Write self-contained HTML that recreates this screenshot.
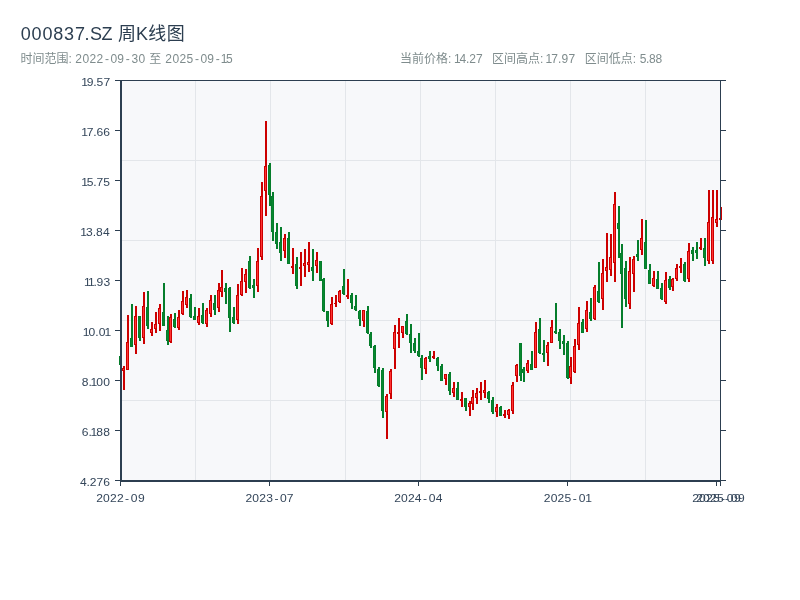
<!DOCTYPE html>
<html lang="zh"><head><meta charset="utf-8"><title>000837.SZ 周K线图</title>
<style>html,body{margin:0;padding:0;background:#fff}body{width:800px;height:600px;overflow:hidden}svg{display:block}text{font-family:"Liberation Sans","Noto Sans CJK SC",sans-serif;white-space:pre}</style></head><body>
<svg width="800" height="600" viewBox="0 0 800 600" shape-rendering="crispEdges">
<rect x="0" y="0" width="800" height="600" fill="#fff"/>
<text x="20.66 31.52 42.38 53.23 64.09 74.95 84.62 89.93 101.4 112.5 118.1 136.03 148.2 166.8" y="40" font-size="18" fill="#2c3e50">000837.SZ 周K线图</text>
<text x="20.5 32.5 44.5 56.5 68.5 71.83 75.36 82.43 89.5 96.57 105 110.42 117.31 125.75 131.48 138.46 145.5 149.3 161.5 165.35 172.39 179.43 186.47 195 200.42 207.31 215.75 220.81 226.09" y="63" font-size="12" fill="#7f8c8d">时间范围: 2022-09-30 至 2025-09-15</text>
<text x="400.1 412.1 424.1 436.1 448.1 451.43 453.97 459.45 466.04 469.3 476.08" y="63" font-size="12" fill="#7f8c8d">当前价格: 14.27</text>
<text x="492.1 504.1 516.1 528.1 540.1 543.43 545.62 551.26 558 561.41 568.4" y="63" font-size="12" fill="#7f8c8d">区间高点: 17.97</text>
<text x="584.7 596.7 608.7 620.7 632.7 636.03 639.68 646.04 649.07 655.53" y="63" font-size="12" fill="#7f8c8d">区间低点: 5.88</text>
<rect x="120" y="80" width="601" height="401" fill="#f7f8fa"/>
<rect x="195" y="81" width="1" height="399" fill="#e3e6ea"/>
<rect x="270" y="81" width="1" height="399" fill="#e3e6ea"/>
<rect x="345" y="81" width="1" height="399" fill="#e3e6ea"/>
<rect x="420" y="81" width="1" height="399" fill="#e3e6ea"/>
<rect x="495" y="81" width="1" height="399" fill="#e3e6ea"/>
<rect x="570" y="81" width="1" height="399" fill="#e3e6ea"/>
<rect x="645" y="81" width="1" height="399" fill="#e3e6ea"/>
<rect x="122" y="160" width="598" height="1" fill="#e3e6ea"/>
<rect x="122" y="240" width="598" height="1" fill="#e3e6ea"/>
<rect x="122" y="320" width="598" height="1" fill="#e3e6ea"/>
<rect x="122" y="400" width="598" height="1" fill="#e3e6ea"/>
<rect x="120" y="356" width="2" height="9" fill="#057d2b"/>
<rect x="119" y="356" width="3" height="9" fill="#057d2b"/>
<rect x="120" y="357" width="1" height="7" fill="#07882f"/>
<rect x="123" y="366" width="2" height="24" fill="#cc0000"/>
<rect x="122" y="368" width="3" height="3" fill="#cc0000"/>
<rect x="123" y="369" width="1" height="1" fill="#ff3333"/>
<rect x="127" y="315" width="2" height="55" fill="#cc0000"/>
<rect x="126" y="342" width="3" height="28" fill="#cc0000"/>
<rect x="127" y="343" width="1" height="26" fill="#ff3333"/>
<rect x="131" y="304" width="2" height="43" fill="#057d2b"/>
<rect x="130" y="338" width="3" height="9" fill="#057d2b"/>
<rect x="131" y="339" width="1" height="7" fill="#07882f"/>
<rect x="135" y="306" width="2" height="48" fill="#cc0000"/>
<rect x="134" y="316" width="3" height="29" fill="#cc0000"/>
<rect x="135" y="317" width="1" height="27" fill="#ff3333"/>
<rect x="139" y="316" width="2" height="25" fill="#057d2b"/>
<rect x="138" y="316" width="3" height="22" fill="#057d2b"/>
<rect x="139" y="317" width="1" height="20" fill="#07882f"/>
<rect x="143" y="292" width="2" height="52" fill="#cc0000"/>
<rect x="142" y="306" width="3" height="32" fill="#cc0000"/>
<rect x="143" y="307" width="1" height="30" fill="#ff3333"/>
<rect x="147" y="291" width="2" height="38" fill="#057d2b"/>
<rect x="146" y="307" width="3" height="19" fill="#057d2b"/>
<rect x="147" y="308" width="1" height="17" fill="#07882f"/>
<rect x="151" y="322" width="2" height="14" fill="#cc0000"/>
<rect x="150" y="329" width="3" height="4" fill="#cc0000"/>
<rect x="151" y="330" width="1" height="2" fill="#ff3333"/>
<rect x="155" y="312" width="2" height="21" fill="#cc0000"/>
<rect x="154" y="324" width="3" height="5" fill="#cc0000"/>
<rect x="155" y="325" width="1" height="3" fill="#ff3333"/>
<rect x="159" y="304" width="2" height="27" fill="#cc0000"/>
<rect x="158" y="308" width="3" height="16" fill="#cc0000"/>
<rect x="159" y="309" width="1" height="14" fill="#ff3333"/>
<rect x="163" y="283" width="2" height="43" fill="#057d2b"/>
<rect x="162" y="312" width="3" height="14" fill="#057d2b"/>
<rect x="163" y="313" width="1" height="12" fill="#07882f"/>
<rect x="167" y="316" width="2" height="29" fill="#057d2b"/>
<rect x="166" y="330" width="3" height="11" fill="#057d2b"/>
<rect x="167" y="331" width="1" height="9" fill="#07882f"/>
<rect x="170" y="314" width="2" height="29" fill="#cc0000"/>
<rect x="169" y="317" width="3" height="25" fill="#cc0000"/>
<rect x="170" y="318" width="1" height="23" fill="#ff3333"/>
<rect x="174" y="313" width="2" height="15" fill="#057d2b"/>
<rect x="173" y="319" width="3" height="8" fill="#057d2b"/>
<rect x="174" y="320" width="1" height="6" fill="#07882f"/>
<rect x="178" y="310" width="2" height="20" fill="#cc0000"/>
<rect x="177" y="317" width="3" height="11" fill="#cc0000"/>
<rect x="178" y="318" width="1" height="9" fill="#ff3333"/>
<rect x="182" y="291" width="2" height="24" fill="#cc0000"/>
<rect x="181" y="301" width="3" height="13" fill="#cc0000"/>
<rect x="182" y="302" width="1" height="11" fill="#ff3333"/>
<rect x="186" y="290" width="2" height="18" fill="#cc0000"/>
<rect x="185" y="297" width="3" height="8" fill="#cc0000"/>
<rect x="186" y="298" width="1" height="6" fill="#ff3333"/>
<rect x="190" y="294" width="2" height="24" fill="#057d2b"/>
<rect x="189" y="298" width="3" height="19" fill="#057d2b"/>
<rect x="190" y="299" width="1" height="17" fill="#07882f"/>
<rect x="194" y="307" width="2" height="13" fill="#057d2b"/>
<rect x="193" y="316" width="3" height="4" fill="#057d2b"/>
<rect x="194" y="317" width="1" height="2" fill="#07882f"/>
<rect x="198" y="308" width="2" height="17" fill="#cc0000"/>
<rect x="197" y="316" width="3" height="7" fill="#cc0000"/>
<rect x="198" y="317" width="1" height="5" fill="#ff3333"/>
<rect x="202" y="303" width="2" height="21" fill="#057d2b"/>
<rect x="201" y="315" width="3" height="8" fill="#057d2b"/>
<rect x="202" y="316" width="1" height="6" fill="#07882f"/>
<rect x="206" y="308" width="2" height="19" fill="#cc0000"/>
<rect x="205" y="310" width="3" height="14" fill="#cc0000"/>
<rect x="206" y="311" width="1" height="12" fill="#ff3333"/>
<rect x="210" y="295" width="2" height="22" fill="#cc0000"/>
<rect x="209" y="300" width="3" height="14" fill="#cc0000"/>
<rect x="210" y="301" width="1" height="12" fill="#ff3333"/>
<rect x="214" y="295" width="2" height="20" fill="#057d2b"/>
<rect x="213" y="303" width="3" height="7" fill="#057d2b"/>
<rect x="214" y="304" width="1" height="5" fill="#07882f"/>
<rect x="218" y="283" width="2" height="29" fill="#cc0000"/>
<rect x="217" y="290" width="3" height="18" fill="#cc0000"/>
<rect x="218" y="291" width="1" height="16" fill="#ff3333"/>
<rect x="221" y="270" width="2" height="27" fill="#cc0000"/>
<rect x="220" y="287" width="3" height="5" fill="#cc0000"/>
<rect x="221" y="288" width="1" height="3" fill="#ff3333"/>
<rect x="225" y="283" width="2" height="21" fill="#057d2b"/>
<rect x="224" y="288" width="3" height="4" fill="#057d2b"/>
<rect x="225" y="289" width="1" height="2" fill="#07882f"/>
<rect x="229" y="287" width="2" height="45" fill="#057d2b"/>
<rect x="228" y="288" width="3" height="30" fill="#057d2b"/>
<rect x="229" y="289" width="1" height="28" fill="#07882f"/>
<rect x="233" y="307" width="2" height="17" fill="#057d2b"/>
<rect x="232" y="317" width="3" height="6" fill="#057d2b"/>
<rect x="233" y="318" width="1" height="4" fill="#07882f"/>
<rect x="237" y="284" width="2" height="40" fill="#cc0000"/>
<rect x="236" y="295" width="3" height="25" fill="#cc0000"/>
<rect x="237" y="296" width="1" height="23" fill="#ff3333"/>
<rect x="241" y="268" width="2" height="28" fill="#cc0000"/>
<rect x="240" y="281" width="3" height="14" fill="#cc0000"/>
<rect x="241" y="282" width="1" height="12" fill="#ff3333"/>
<rect x="245" y="269" width="2" height="24" fill="#cc0000"/>
<rect x="244" y="274" width="3" height="8" fill="#cc0000"/>
<rect x="245" y="275" width="1" height="6" fill="#ff3333"/>
<rect x="249" y="256" width="2" height="33" fill="#057d2b"/>
<rect x="248" y="261" width="3" height="27" fill="#057d2b"/>
<rect x="249" y="262" width="1" height="25" fill="#07882f"/>
<rect x="253" y="279" width="2" height="19" fill="#057d2b"/>
<rect x="252" y="285" width="3" height="3" fill="#057d2b"/>
<rect x="253" y="286" width="1" height="1" fill="#07882f"/>
<rect x="257" y="248" width="2" height="44" fill="#cc0000"/>
<rect x="256" y="261" width="3" height="25" fill="#cc0000"/>
<rect x="257" y="262" width="1" height="23" fill="#ff3333"/>
<rect x="261" y="182" width="2" height="78" fill="#cc0000"/>
<rect x="260" y="196" width="3" height="61" fill="#cc0000"/>
<rect x="261" y="197" width="1" height="59" fill="#ff3333"/>
<rect x="265" y="121" width="2" height="95" fill="#cc0000"/>
<rect x="264" y="166" width="3" height="25" fill="#cc0000"/>
<rect x="265" y="167" width="1" height="23" fill="#ff3333"/>
<rect x="269" y="163" width="2" height="43" fill="#057d2b"/>
<rect x="268" y="165" width="3" height="30" fill="#057d2b"/>
<rect x="269" y="166" width="1" height="28" fill="#07882f"/>
<rect x="272" y="192" width="2" height="49" fill="#057d2b"/>
<rect x="271" y="196" width="3" height="36" fill="#057d2b"/>
<rect x="272" y="197" width="1" height="34" fill="#07882f"/>
<rect x="276" y="223" width="2" height="26" fill="#057d2b"/>
<rect x="275" y="232" width="3" height="12" fill="#057d2b"/>
<rect x="276" y="233" width="1" height="10" fill="#07882f"/>
<rect x="280" y="227" width="2" height="34" fill="#057d2b"/>
<rect x="279" y="242" width="3" height="11" fill="#057d2b"/>
<rect x="280" y="243" width="1" height="9" fill="#07882f"/>
<rect x="284" y="234" width="2" height="24" fill="#cc0000"/>
<rect x="283" y="238" width="3" height="13" fill="#cc0000"/>
<rect x="284" y="239" width="1" height="11" fill="#ff3333"/>
<rect x="288" y="232" width="2" height="32" fill="#057d2b"/>
<rect x="287" y="238" width="3" height="26" fill="#057d2b"/>
<rect x="288" y="239" width="1" height="24" fill="#07882f"/>
<rect x="292" y="248" width="2" height="26" fill="#cc0000"/>
<rect x="291" y="266" width="3" height="2" fill="#cc0000"/>
<rect x="296" y="257" width="2" height="32" fill="#057d2b"/>
<rect x="295" y="264" width="3" height="22" fill="#057d2b"/>
<rect x="296" y="265" width="1" height="20" fill="#07882f"/>
<rect x="300" y="252" width="2" height="34" fill="#cc0000"/>
<rect x="299" y="267" width="3" height="2" fill="#cc0000"/>
<rect x="304" y="249" width="2" height="28" fill="#cc0000"/>
<rect x="303" y="263" width="3" height="3" fill="#cc0000"/>
<rect x="304" y="264" width="1" height="1" fill="#ff3333"/>
<rect x="308" y="242" width="2" height="30" fill="#cc0000"/>
<rect x="307" y="262" width="3" height="3" fill="#cc0000"/>
<rect x="308" y="263" width="1" height="1" fill="#ff3333"/>
<rect x="312" y="249" width="2" height="32" fill="#057d2b"/>
<rect x="311" y="267" width="3" height="4" fill="#057d2b"/>
<rect x="312" y="268" width="1" height="2" fill="#07882f"/>
<rect x="316" y="252" width="2" height="21" fill="#cc0000"/>
<rect x="315" y="260" width="3" height="6" fill="#cc0000"/>
<rect x="316" y="261" width="1" height="4" fill="#ff3333"/>
<rect x="320" y="261" width="2" height="20" fill="#057d2b"/>
<rect x="319" y="261" width="3" height="20" fill="#057d2b"/>
<rect x="320" y="262" width="1" height="18" fill="#07882f"/>
<rect x="323" y="278" width="2" height="34" fill="#057d2b"/>
<rect x="322" y="279" width="3" height="32" fill="#057d2b"/>
<rect x="323" y="280" width="1" height="30" fill="#07882f"/>
<rect x="327" y="311" width="2" height="16" fill="#057d2b"/>
<rect x="326" y="311" width="3" height="10" fill="#057d2b"/>
<rect x="327" y="312" width="1" height="8" fill="#07882f"/>
<rect x="331" y="297" width="2" height="28" fill="#cc0000"/>
<rect x="330" y="304" width="3" height="20" fill="#cc0000"/>
<rect x="331" y="305" width="1" height="18" fill="#ff3333"/>
<rect x="335" y="295" width="2" height="12" fill="#cc0000"/>
<rect x="334" y="303" width="3" height="1" fill="#cc0000"/>
<rect x="339" y="290" width="2" height="13" fill="#cc0000"/>
<rect x="338" y="291" width="3" height="11" fill="#cc0000"/>
<rect x="339" y="292" width="1" height="9" fill="#ff3333"/>
<rect x="343" y="269" width="2" height="26" fill="#057d2b"/>
<rect x="342" y="286" width="3" height="8" fill="#057d2b"/>
<rect x="343" y="287" width="1" height="6" fill="#07882f"/>
<rect x="347" y="279" width="2" height="20" fill="#cc0000"/>
<rect x="346" y="295" width="3" height="2" fill="#cc0000"/>
<rect x="351" y="293" width="2" height="16" fill="#057d2b"/>
<rect x="350" y="295" width="3" height="8" fill="#057d2b"/>
<rect x="351" y="296" width="1" height="6" fill="#07882f"/>
<rect x="355" y="295" width="2" height="16" fill="#057d2b"/>
<rect x="354" y="306" width="3" height="4" fill="#057d2b"/>
<rect x="355" y="307" width="1" height="2" fill="#07882f"/>
<rect x="359" y="310" width="2" height="16" fill="#057d2b"/>
<rect x="358" y="311" width="3" height="8" fill="#057d2b"/>
<rect x="359" y="312" width="1" height="6" fill="#07882f"/>
<rect x="363" y="310" width="2" height="17" fill="#cc0000"/>
<rect x="362" y="310" width="3" height="11" fill="#cc0000"/>
<rect x="363" y="311" width="1" height="9" fill="#ff3333"/>
<rect x="367" y="306" width="2" height="28" fill="#057d2b"/>
<rect x="366" y="311" width="3" height="22" fill="#057d2b"/>
<rect x="367" y="312" width="1" height="20" fill="#07882f"/>
<rect x="370" y="332" width="2" height="16" fill="#057d2b"/>
<rect x="369" y="334" width="3" height="12" fill="#057d2b"/>
<rect x="370" y="335" width="1" height="10" fill="#07882f"/>
<rect x="374" y="345" width="2" height="28" fill="#057d2b"/>
<rect x="373" y="346" width="3" height="22" fill="#057d2b"/>
<rect x="374" y="347" width="1" height="20" fill="#07882f"/>
<rect x="378" y="367" width="2" height="20" fill="#057d2b"/>
<rect x="377" y="369" width="3" height="17" fill="#057d2b"/>
<rect x="378" y="370" width="1" height="15" fill="#07882f"/>
<rect x="382" y="368" width="2" height="50" fill="#057d2b"/>
<rect x="381" y="370" width="3" height="41" fill="#057d2b"/>
<rect x="382" y="371" width="1" height="39" fill="#07882f"/>
<rect x="386" y="394" width="2" height="45" fill="#cc0000"/>
<rect x="385" y="396" width="3" height="16" fill="#cc0000"/>
<rect x="386" y="397" width="1" height="14" fill="#ff3333"/>
<rect x="390" y="369" width="2" height="30" fill="#cc0000"/>
<rect x="389" y="371" width="3" height="23" fill="#cc0000"/>
<rect x="390" y="372" width="1" height="21" fill="#ff3333"/>
<rect x="394" y="325" width="2" height="44" fill="#cc0000"/>
<rect x="393" y="332" width="3" height="17" fill="#cc0000"/>
<rect x="394" y="333" width="1" height="15" fill="#ff3333"/>
<rect x="398" y="318" width="2" height="30" fill="#cc0000"/>
<rect x="397" y="332" width="3" height="2" fill="#cc0000"/>
<rect x="402" y="326" width="2" height="12" fill="#cc0000"/>
<rect x="401" y="326" width="3" height="7" fill="#cc0000"/>
<rect x="402" y="327" width="1" height="5" fill="#ff3333"/>
<rect x="406" y="314" width="2" height="21" fill="#057d2b"/>
<rect x="405" y="321" width="3" height="13" fill="#057d2b"/>
<rect x="406" y="322" width="1" height="11" fill="#07882f"/>
<rect x="410" y="324" width="2" height="29" fill="#057d2b"/>
<rect x="409" y="334" width="3" height="9" fill="#057d2b"/>
<rect x="410" y="335" width="1" height="7" fill="#07882f"/>
<rect x="414" y="338" width="2" height="15" fill="#057d2b"/>
<rect x="413" y="343" width="3" height="8" fill="#057d2b"/>
<rect x="414" y="344" width="1" height="6" fill="#07882f"/>
<rect x="418" y="333" width="2" height="24" fill="#057d2b"/>
<rect x="417" y="351" width="3" height="5" fill="#057d2b"/>
<rect x="418" y="352" width="1" height="3" fill="#07882f"/>
<rect x="421" y="355" width="2" height="25" fill="#057d2b"/>
<rect x="420" y="358" width="3" height="10" fill="#057d2b"/>
<rect x="421" y="359" width="1" height="8" fill="#07882f"/>
<rect x="425" y="357" width="2" height="17" fill="#cc0000"/>
<rect x="424" y="358" width="3" height="11" fill="#cc0000"/>
<rect x="425" y="359" width="1" height="9" fill="#ff3333"/>
<rect x="429" y="351" width="2" height="11" fill="#057d2b"/>
<rect x="428" y="356" width="3" height="3" fill="#057d2b"/>
<rect x="429" y="357" width="1" height="1" fill="#07882f"/>
<rect x="433" y="351" width="2" height="8" fill="#cc0000"/>
<rect x="432" y="356" width="3" height="2" fill="#cc0000"/>
<rect x="437" y="357" width="2" height="14" fill="#057d2b"/>
<rect x="436" y="358" width="3" height="8" fill="#057d2b"/>
<rect x="437" y="359" width="1" height="6" fill="#07882f"/>
<rect x="441" y="364" width="2" height="17" fill="#057d2b"/>
<rect x="440" y="366" width="3" height="15" fill="#057d2b"/>
<rect x="441" y="367" width="1" height="13" fill="#07882f"/>
<rect x="445" y="374" width="2" height="11" fill="#cc0000"/>
<rect x="444" y="374" width="3" height="5" fill="#cc0000"/>
<rect x="445" y="375" width="1" height="3" fill="#ff3333"/>
<rect x="449" y="372" width="2" height="23" fill="#057d2b"/>
<rect x="448" y="374" width="3" height="17" fill="#057d2b"/>
<rect x="449" y="375" width="1" height="15" fill="#07882f"/>
<rect x="453" y="382" width="2" height="15" fill="#cc0000"/>
<rect x="452" y="388" width="3" height="5" fill="#cc0000"/>
<rect x="453" y="389" width="1" height="3" fill="#ff3333"/>
<rect x="457" y="382" width="2" height="18" fill="#057d2b"/>
<rect x="456" y="388" width="3" height="12" fill="#057d2b"/>
<rect x="457" y="389" width="1" height="10" fill="#07882f"/>
<rect x="461" y="392" width="2" height="15" fill="#cc0000"/>
<rect x="460" y="399" width="3" height="2" fill="#cc0000"/>
<rect x="465" y="398" width="2" height="13" fill="#057d2b"/>
<rect x="464" y="398" width="3" height="9" fill="#057d2b"/>
<rect x="465" y="399" width="1" height="7" fill="#07882f"/>
<rect x="469" y="401" width="2" height="15" fill="#cc0000"/>
<rect x="468" y="403" width="3" height="4" fill="#cc0000"/>
<rect x="469" y="404" width="1" height="2" fill="#ff3333"/>
<rect x="472" y="390" width="2" height="20" fill="#cc0000"/>
<rect x="471" y="397" width="3" height="7" fill="#cc0000"/>
<rect x="472" y="398" width="1" height="5" fill="#ff3333"/>
<rect x="476" y="388" width="2" height="16" fill="#cc0000"/>
<rect x="475" y="393" width="3" height="5" fill="#cc0000"/>
<rect x="476" y="394" width="1" height="3" fill="#ff3333"/>
<rect x="480" y="382" width="2" height="18" fill="#cc0000"/>
<rect x="479" y="391" width="3" height="2" fill="#cc0000"/>
<rect x="484" y="380" width="2" height="18" fill="#cc0000"/>
<rect x="483" y="390" width="3" height="3" fill="#cc0000"/>
<rect x="484" y="391" width="1" height="1" fill="#ff3333"/>
<rect x="488" y="391" width="2" height="12" fill="#057d2b"/>
<rect x="487" y="392" width="3" height="7" fill="#057d2b"/>
<rect x="488" y="393" width="1" height="5" fill="#07882f"/>
<rect x="492" y="397" width="2" height="17" fill="#057d2b"/>
<rect x="491" y="400" width="3" height="12" fill="#057d2b"/>
<rect x="492" y="401" width="1" height="10" fill="#07882f"/>
<rect x="496" y="404" width="2" height="13" fill="#cc0000"/>
<rect x="495" y="407" width="3" height="5" fill="#cc0000"/>
<rect x="496" y="408" width="1" height="3" fill="#ff3333"/>
<rect x="500" y="406" width="2" height="10" fill="#057d2b"/>
<rect x="499" y="407" width="3" height="9" fill="#057d2b"/>
<rect x="500" y="408" width="1" height="7" fill="#07882f"/>
<rect x="504" y="410" width="2" height="8" fill="#cc0000"/>
<rect x="503" y="414" width="3" height="2" fill="#cc0000"/>
<rect x="508" y="409" width="2" height="10" fill="#cc0000"/>
<rect x="507" y="410" width="3" height="5" fill="#cc0000"/>
<rect x="508" y="411" width="1" height="3" fill="#ff3333"/>
<rect x="512" y="382" width="2" height="32" fill="#cc0000"/>
<rect x="511" y="385" width="3" height="26" fill="#cc0000"/>
<rect x="512" y="386" width="1" height="24" fill="#ff3333"/>
<rect x="516" y="364" width="2" height="18" fill="#cc0000"/>
<rect x="515" y="365" width="3" height="11" fill="#cc0000"/>
<rect x="516" y="366" width="1" height="9" fill="#ff3333"/>
<rect x="520" y="343" width="2" height="38" fill="#057d2b"/>
<rect x="519" y="343" width="3" height="33" fill="#057d2b"/>
<rect x="520" y="344" width="1" height="31" fill="#07882f"/>
<rect x="523" y="367" width="2" height="15" fill="#057d2b"/>
<rect x="522" y="369" width="3" height="4" fill="#057d2b"/>
<rect x="523" y="370" width="1" height="2" fill="#07882f"/>
<rect x="527" y="360" width="2" height="13" fill="#cc0000"/>
<rect x="526" y="363" width="3" height="8" fill="#cc0000"/>
<rect x="527" y="364" width="1" height="6" fill="#ff3333"/>
<rect x="531" y="351" width="2" height="19" fill="#057d2b"/>
<rect x="530" y="364" width="3" height="6" fill="#057d2b"/>
<rect x="531" y="365" width="1" height="4" fill="#07882f"/>
<rect x="535" y="322" width="2" height="46" fill="#cc0000"/>
<rect x="534" y="332" width="3" height="36" fill="#cc0000"/>
<rect x="535" y="333" width="1" height="34" fill="#ff3333"/>
<rect x="539" y="318" width="2" height="36" fill="#057d2b"/>
<rect x="538" y="329" width="3" height="24" fill="#057d2b"/>
<rect x="539" y="330" width="1" height="22" fill="#07882f"/>
<rect x="543" y="340" width="2" height="22" fill="#057d2b"/>
<rect x="542" y="353" width="3" height="2" fill="#057d2b"/>
<rect x="547" y="342" width="2" height="24" fill="#cc0000"/>
<rect x="546" y="345" width="3" height="8" fill="#cc0000"/>
<rect x="547" y="346" width="1" height="6" fill="#ff3333"/>
<rect x="551" y="320" width="2" height="23" fill="#cc0000"/>
<rect x="550" y="327" width="3" height="16" fill="#cc0000"/>
<rect x="551" y="328" width="1" height="14" fill="#ff3333"/>
<rect x="555" y="303" width="2" height="31" fill="#057d2b"/>
<rect x="554" y="331" width="3" height="2" fill="#057d2b"/>
<rect x="559" y="329" width="2" height="20" fill="#057d2b"/>
<rect x="558" y="332" width="3" height="9" fill="#057d2b"/>
<rect x="559" y="333" width="1" height="7" fill="#07882f"/>
<rect x="563" y="335" width="2" height="20" fill="#057d2b"/>
<rect x="562" y="341" width="3" height="3" fill="#057d2b"/>
<rect x="563" y="342" width="1" height="1" fill="#07882f"/>
<rect x="567" y="341" width="2" height="38" fill="#057d2b"/>
<rect x="566" y="343" width="3" height="35" fill="#057d2b"/>
<rect x="567" y="344" width="1" height="33" fill="#07882f"/>
<rect x="570" y="357" width="2" height="27" fill="#cc0000"/>
<rect x="569" y="366" width="3" height="12" fill="#cc0000"/>
<rect x="570" y="367" width="1" height="10" fill="#ff3333"/>
<rect x="574" y="339" width="2" height="34" fill="#cc0000"/>
<rect x="573" y="346" width="3" height="26" fill="#cc0000"/>
<rect x="574" y="347" width="1" height="24" fill="#ff3333"/>
<rect x="578" y="307" width="2" height="43" fill="#cc0000"/>
<rect x="577" y="323" width="3" height="22" fill="#cc0000"/>
<rect x="578" y="324" width="1" height="20" fill="#ff3333"/>
<rect x="582" y="319" width="2" height="14" fill="#057d2b"/>
<rect x="581" y="322" width="3" height="11" fill="#057d2b"/>
<rect x="582" y="323" width="1" height="9" fill="#07882f"/>
<rect x="586" y="301" width="2" height="31" fill="#cc0000"/>
<rect x="585" y="310" width="3" height="19" fill="#cc0000"/>
<rect x="586" y="311" width="1" height="17" fill="#ff3333"/>
<rect x="590" y="298" width="2" height="23" fill="#057d2b"/>
<rect x="589" y="312" width="3" height="7" fill="#057d2b"/>
<rect x="590" y="313" width="1" height="5" fill="#07882f"/>
<rect x="594" y="285" width="2" height="35" fill="#cc0000"/>
<rect x="593" y="287" width="3" height="32" fill="#cc0000"/>
<rect x="594" y="288" width="1" height="30" fill="#ff3333"/>
<rect x="598" y="262" width="2" height="41" fill="#057d2b"/>
<rect x="597" y="291" width="3" height="11" fill="#057d2b"/>
<rect x="598" y="292" width="1" height="9" fill="#07882f"/>
<rect x="602" y="259" width="2" height="51" fill="#cc0000"/>
<rect x="601" y="273" width="3" height="26" fill="#cc0000"/>
<rect x="602" y="274" width="1" height="24" fill="#ff3333"/>
<rect x="606" y="233" width="2" height="49" fill="#cc0000"/>
<rect x="605" y="267" width="3" height="4" fill="#cc0000"/>
<rect x="606" y="268" width="1" height="2" fill="#ff3333"/>
<rect x="610" y="234" width="2" height="42" fill="#cc0000"/>
<rect x="609" y="257" width="3" height="13" fill="#cc0000"/>
<rect x="610" y="258" width="1" height="11" fill="#ff3333"/>
<rect x="614" y="192" width="2" height="90" fill="#cc0000"/>
<rect x="613" y="204" width="3" height="59" fill="#cc0000"/>
<rect x="614" y="205" width="1" height="57" fill="#ff3333"/>
<rect x="618" y="206" width="2" height="52" fill="#057d2b"/>
<rect x="617" y="223" width="3" height="6" fill="#057d2b"/>
<rect x="618" y="224" width="1" height="4" fill="#07882f"/>
<rect x="621" y="244" width="2" height="84" fill="#057d2b"/>
<rect x="620" y="253" width="3" height="21" fill="#057d2b"/>
<rect x="621" y="254" width="1" height="19" fill="#07882f"/>
<rect x="625" y="261" width="2" height="46" fill="#057d2b"/>
<rect x="624" y="268" width="3" height="31" fill="#057d2b"/>
<rect x="625" y="269" width="1" height="29" fill="#07882f"/>
<rect x="629" y="257" width="2" height="52" fill="#cc0000"/>
<rect x="628" y="271" width="3" height="33" fill="#cc0000"/>
<rect x="629" y="272" width="1" height="31" fill="#ff3333"/>
<rect x="633" y="256" width="2" height="36" fill="#cc0000"/>
<rect x="632" y="259" width="3" height="15" fill="#cc0000"/>
<rect x="633" y="260" width="1" height="13" fill="#ff3333"/>
<rect x="637" y="240" width="2" height="21" fill="#057d2b"/>
<rect x="636" y="254" width="3" height="3" fill="#057d2b"/>
<rect x="637" y="255" width="1" height="1" fill="#07882f"/>
<rect x="641" y="219" width="2" height="36" fill="#cc0000"/>
<rect x="640" y="238" width="3" height="12" fill="#cc0000"/>
<rect x="641" y="239" width="1" height="10" fill="#ff3333"/>
<rect x="645" y="220" width="2" height="49" fill="#057d2b"/>
<rect x="644" y="242" width="3" height="27" fill="#057d2b"/>
<rect x="645" y="243" width="1" height="25" fill="#07882f"/>
<rect x="649" y="264" width="2" height="20" fill="#057d2b"/>
<rect x="648" y="270" width="3" height="14" fill="#057d2b"/>
<rect x="649" y="271" width="1" height="12" fill="#07882f"/>
<rect x="653" y="271" width="2" height="16" fill="#cc0000"/>
<rect x="652" y="278" width="3" height="8" fill="#cc0000"/>
<rect x="653" y="279" width="1" height="6" fill="#ff3333"/>
<rect x="657" y="271" width="2" height="18" fill="#057d2b"/>
<rect x="656" y="279" width="3" height="10" fill="#057d2b"/>
<rect x="657" y="280" width="1" height="8" fill="#07882f"/>
<rect x="661" y="283" width="2" height="17" fill="#057d2b"/>
<rect x="660" y="288" width="3" height="11" fill="#057d2b"/>
<rect x="661" y="289" width="1" height="9" fill="#07882f"/>
<rect x="665" y="272" width="2" height="32" fill="#cc0000"/>
<rect x="664" y="280" width="3" height="22" fill="#cc0000"/>
<rect x="665" y="281" width="1" height="20" fill="#ff3333"/>
<rect x="669" y="276" width="2" height="14" fill="#057d2b"/>
<rect x="668" y="279" width="3" height="9" fill="#057d2b"/>
<rect x="669" y="280" width="1" height="7" fill="#07882f"/>
<rect x="672" y="278" width="2" height="13" fill="#cc0000"/>
<rect x="671" y="279" width="3" height="8" fill="#cc0000"/>
<rect x="672" y="280" width="1" height="6" fill="#ff3333"/>
<rect x="676" y="264" width="2" height="17" fill="#cc0000"/>
<rect x="675" y="268" width="3" height="11" fill="#cc0000"/>
<rect x="676" y="269" width="1" height="9" fill="#ff3333"/>
<rect x="680" y="258" width="2" height="15" fill="#cc0000"/>
<rect x="679" y="266" width="3" height="2" fill="#cc0000"/>
<rect x="684" y="262" width="2" height="20" fill="#057d2b"/>
<rect x="683" y="264" width="3" height="17" fill="#057d2b"/>
<rect x="684" y="265" width="1" height="15" fill="#07882f"/>
<rect x="688" y="243" width="2" height="39" fill="#cc0000"/>
<rect x="687" y="251" width="3" height="28" fill="#cc0000"/>
<rect x="688" y="252" width="1" height="26" fill="#ff3333"/>
<rect x="692" y="247" width="2" height="14" fill="#057d2b"/>
<rect x="691" y="250" width="3" height="4" fill="#057d2b"/>
<rect x="692" y="251" width="1" height="2" fill="#07882f"/>
<rect x="696" y="242" width="2" height="17" fill="#057d2b"/>
<rect x="695" y="250" width="3" height="3" fill="#057d2b"/>
<rect x="696" y="251" width="1" height="1" fill="#07882f"/>
<rect x="700" y="238" width="2" height="12" fill="#cc0000"/>
<rect x="699" y="247" width="3" height="2" fill="#cc0000"/>
<rect x="704" y="238" width="2" height="28" fill="#057d2b"/>
<rect x="703" y="248" width="3" height="10" fill="#057d2b"/>
<rect x="704" y="249" width="1" height="8" fill="#07882f"/>
<rect x="708" y="190" width="2" height="74" fill="#cc0000"/>
<rect x="707" y="222" width="3" height="39" fill="#cc0000"/>
<rect x="708" y="223" width="1" height="37" fill="#ff3333"/>
<rect x="712" y="190" width="2" height="74" fill="#cc0000"/>
<rect x="711" y="217" width="3" height="44" fill="#cc0000"/>
<rect x="712" y="218" width="1" height="42" fill="#ff3333"/>
<rect x="716" y="190" width="2" height="37" fill="#cc0000"/>
<rect x="715" y="219" width="3" height="4" fill="#cc0000"/>
<rect x="716" y="220" width="1" height="2" fill="#ff3333"/>
<rect x="720" y="207" width="2" height="13" fill="#cc0000"/>
<rect x="719" y="218" width="3" height="2" fill="#cc0000"/>
<rect x="120" y="80" width="606" height="1" fill="#2c3e50"/>
<rect x="720" y="80" width="1" height="402" fill="#2c3e50"/>
<rect x="120" y="80" width="2" height="402" fill="#2c3e50"/>
<rect x="120" y="480" width="601" height="2" fill="#2c3e50"/>
<rect x="115" y="80" width="5" height="1" fill="#2c3e50"/>
<rect x="721" y="80" width="5" height="1" fill="#2c3e50"/>
<text x="73.77 78.8 84.84 87.82 94.03" y="86" font-size="11" fill="#34465a" transform="scale(1.1000,1)">19.57</text>
<rect x="115" y="130" width="5" height="1" fill="#2c3e50"/>
<rect x="721" y="130" width="5" height="1" fill="#2c3e50"/>
<text x="73.77 78.78 84.81 87.77 93.97" y="136" font-size="11" fill="#34465a" transform="scale(1.1000,1)">17.66</text>
<rect x="115" y="180" width="5" height="1" fill="#2c3e50"/>
<rect x="721" y="180" width="5" height="1" fill="#2c3e50"/>
<text x="73.77 78.77 84.8 87.76 93.95" y="186" font-size="11" fill="#34465a" transform="scale(1.1000,1)">15.75</text>
<rect x="115" y="230" width="5" height="1" fill="#2c3e50"/>
<rect x="721" y="230" width="5" height="1" fill="#2c3e50"/>
<text x="72.99 78.13 84.28 87.37 93.73" y="236" font-size="11" fill="#34465a" transform="scale(1.1000,1)">13.84</text>
<rect x="115" y="280" width="5" height="1" fill="#2c3e50"/>
<rect x="721" y="280" width="5" height="1" fill="#2c3e50"/>
<text x="76.4 80.07 84.89 87.83 93.99" y="286" font-size="11" fill="#34465a" transform="scale(1.1000,1)">11.93</text>
<rect x="115" y="330" width="5" height="1" fill="#2c3e50"/>
<rect x="721" y="330" width="5" height="1" fill="#2c3e50"/>
<text x="75.2 80.42 86.65 89.82 94.93" y="336" font-size="11" fill="#34465a" transform="scale(1.1000,1)">10.01</text>
<rect x="115" y="380" width="5" height="1" fill="#2c3e50"/>
<rect x="721" y="380" width="5" height="1" fill="#2c3e50"/>
<text x="74.36 80.53 82.29 87.45 93.83" y="386" font-size="11" fill="#34465a" transform="scale(1.1000,1)">8.100</text>
<rect x="115" y="430" width="5" height="1" fill="#2c3e50"/>
<rect x="721" y="430" width="5" height="1" fill="#2c3e50"/>
<text x="74.29 80.48 82.26 87.45 93.87" y="436" font-size="11" fill="#34465a" transform="scale(1.1000,1)">6.188</text>
<rect x="115" y="480" width="5" height="1" fill="#2c3e50"/>
<rect x="721" y="480" width="5" height="1" fill="#2c3e50"/>
<text x="72.68 78.69 81.64 87.81 93.98" y="486" font-size="11" fill="#34465a" transform="scale(1.1000,1)">4.276</text>
<rect x="120" y="482" width="1" height="4" fill="#2c3e50"/>
<text x="87.43 93.74 100.05 106.36 113.71 118.92 125.42" y="502" font-size="11" fill="#34465a" transform="scale(1.1000,1)">2022-09</text>
<rect x="269" y="482" width="1" height="4" fill="#2c3e50"/>
<text x="223.15 229.44 235.73 242.02 249.44 254.53 260.75" y="502" font-size="11" fill="#34465a" transform="scale(1.1000,1)">2023-07</text>
<rect x="418" y="482" width="1" height="4" fill="#2c3e50"/>
<text x="358.32 364.56 370.81 377.06 384.62 389.78 396.17" y="502" font-size="11" fill="#34465a" transform="scale(1.1000,1)">2024-04</text>
<rect x="567" y="482" width="1" height="4" fill="#2c3e50"/>
<text x="494.33 500.62 506.9 513.18 520.62 526.21 532.08" y="502" font-size="11" fill="#34465a" transform="scale(1.1000,1)">2025-01</text>
<rect x="716" y="482" width="1" height="4" fill="#2c3e50"/>
<text x="629.24 635.53 641.81 648.09 655.53 660.74 667.24" y="502" font-size="11" fill="#34465a" transform="scale(1.1000,1)">2025-09</text>
<rect x="720" y="482" width="1" height="4" fill="#2c3e50"/>
<text x="632.88 639.16 645.45 651.73 659.17 664.37 670.88" y="502" font-size="11" fill="#34465a" transform="scale(1.1000,1)">2025-09</text>
</svg></body></html>
